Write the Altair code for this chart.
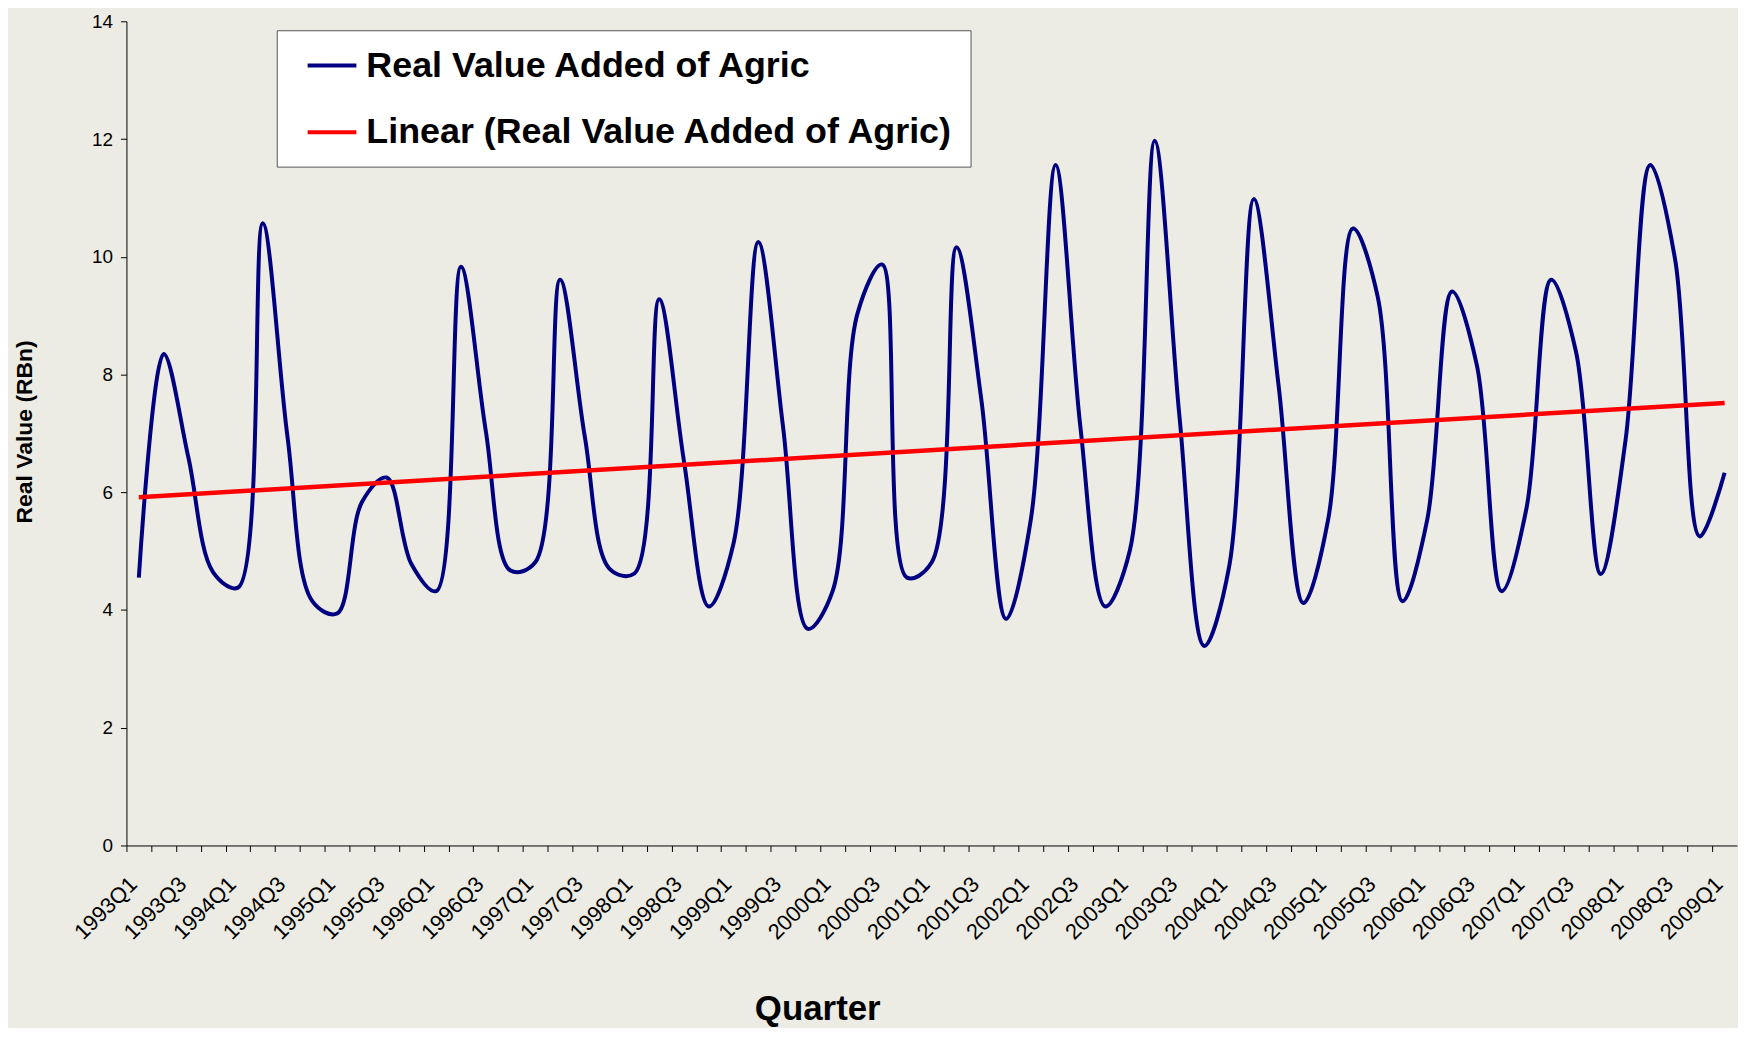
import altair as alt
import pandas as pd

quarters = [
    "1993Q1", "1993Q2", "1993Q3", "1993Q4", "1994Q1", "1994Q2", "1994Q3", "1994Q4",
    "1995Q1", "1995Q2", "1995Q3", "1995Q4", "1996Q1", "1996Q2", "1996Q3", "1996Q4",
    "1997Q1", "1997Q2", "1997Q3", "1997Q4", "1998Q1", "1998Q2", "1998Q3", "1998Q4",
    "1999Q1", "1999Q2", "1999Q3", "1999Q4", "2000Q1", "2000Q2", "2000Q3", "2000Q4",
    "2001Q1", "2001Q2", "2001Q3", "2001Q4", "2002Q1", "2002Q2", "2002Q3", "2002Q4",
    "2003Q1", "2003Q2", "2003Q3", "2003Q4", "2004Q1", "2004Q2", "2004Q3", "2004Q4",
    "2005Q1", "2005Q2", "2005Q3", "2005Q4", "2006Q1", "2006Q2", "2006Q3", "2006Q4",
    "2007Q1", "2007Q2", "2007Q3", "2007Q4", "2008Q1", "2008Q2", "2008Q3", "2008Q4",
    "2009Q1",
]

values = [
    4.55, 8.35, 6.59, 4.64, 4.38, 10.57, 6.94, 4.15,
    3.94, 5.83, 6.25, 4.78, 4.32, 9.83, 7.05, 4.67,
    4.81, 9.61, 6.94, 4.70, 4.62, 9.28, 6.53, 4.06,
    5.13, 10.25, 7.11, 3.68, 4.32, 9.03, 9.87, 4.55,
    4.81, 10.16, 7.58, 3.85, 5.54, 11.56, 7.11, 4.06,
    5.02, 11.97, 7.28, 3.39, 4.73, 10.98, 7.81, 4.12,
    5.54, 10.48, 9.32, 4.15, 5.54, 9.41, 8.16, 4.32,
    5.72, 9.61, 8.39, 4.61, 6.88, 11.56, 9.96, 5.25,
    6.33,
]

y_ticks = [0, 2, 4, 6, 8, 10, 12, 14]

series_main = "Real Value Added of Agric"
series_trend = "Linear (Real Value Added of Agric)"

df = pd.DataFrame({
    "quarter": quarters,
    "idx": list(range(len(quarters))),
    "value": values,
})

FONT = "Liberation Sans"
W, H = 1618, 828
step = W / len(quarters)

x_enc = alt.X(
    "quarter:O",
    scale=alt.Scale(type="point", domain=quarters, padding=0.5),
    axis=alt.Axis(
        title="Quarter",
        titleFont=FONT, titleFontSize=35, titleFontWeight="bold", titleColor="black",
        titleX=694, titleY=147, titleBaseline="top", titleAlign="center",
        labelExpr="(indexof(datum.value, 'Q1') >= 0 || indexof(datum.value, 'Q3') >= 0) ? datum.value : ''",
        labelAngle=-45, labelAlign="right", labelBaseline="middle",
        labelFont=FONT, labelFontSize=22, labelColor="black",
        labelPadding=29, labelOverlap=False, labelFlush=False,
        tickOffset=-step / 2, labelOffset=step / 2 - 6,
        tickSize=6, tickColor="black", tickWidth=1,
        domainColor="black", domainWidth=1, grid=False,
    ),
)

y_enc = alt.Y(
    "value:Q",
    scale=alt.Scale(domain=[0, 14], nice=False, zero=True),
    axis=alt.Axis(
        title="Real Value (RBn)",
        values=y_ticks, format="d",
        titleFont=FONT, titleFontSize=23, titleFontWeight="bold", titleColor="black",
        titleAngle=-90, titleX=-102, titleY=412, titleAlign="center", titleBaseline="middle",
        labelFont=FONT, labelFontSize=19, labelColor="black", labelPadding=8,
        tickSize=6, tickColor="black", domainColor="black", grid=False,
    ),
)

color_enc = alt.Color(
    "series:N",
    scale=alt.Scale(domain=[series_main, series_trend], range=["#000080", "#FF0000"]),
    legend=alt.Legend(
        title=None, orient="none", legendX=151, legendY=9,
        fillColor="white", strokeColor="#555555",
        padding=16, labelFont=FONT, labelFontSize=36, labelFontWeight="bold",
        labelColor="black", labelLimit=1000, labelOffset=35,
        symbolType="M-0.257,0H2.543", symbolStrokeWidth=4, symbolSize=1225,
        rowPadding=29, direction="vertical",
    ),
)

base = alt.Chart(df)

line = base.transform_calculate(series=f"'{series_main}'").mark_line(
    strokeWidth=4, interpolate="catmull-rom"
).encode(x=x_enc, y=y_enc, color=color_enc)

trend = base.transform_regression(
    "idx", "value", method="linear"
).transform_calculate(
    quarter="toString(1993 + floor(datum.idx / 4)) + 'Q' + toString(datum.idx % 4 + 1)",
    series=f"'{series_trend}'",
).mark_line(strokeWidth=4.5).encode(x=x_enc, y=y_enc, color=color_enc)

chart = alt.layer(line, trend).properties(
    width=W, height=H,
    background="#ECECE4",
    padding={"left": 119, "top": 11, "right": 1, "bottom": 181},
    autosize=alt.AutoSizeParams(type="none"),
).configure_view(stroke=None, fill="#ECECE4")

chart.save("out.html", embed_options={"renderer": "svg", "actions": False})
